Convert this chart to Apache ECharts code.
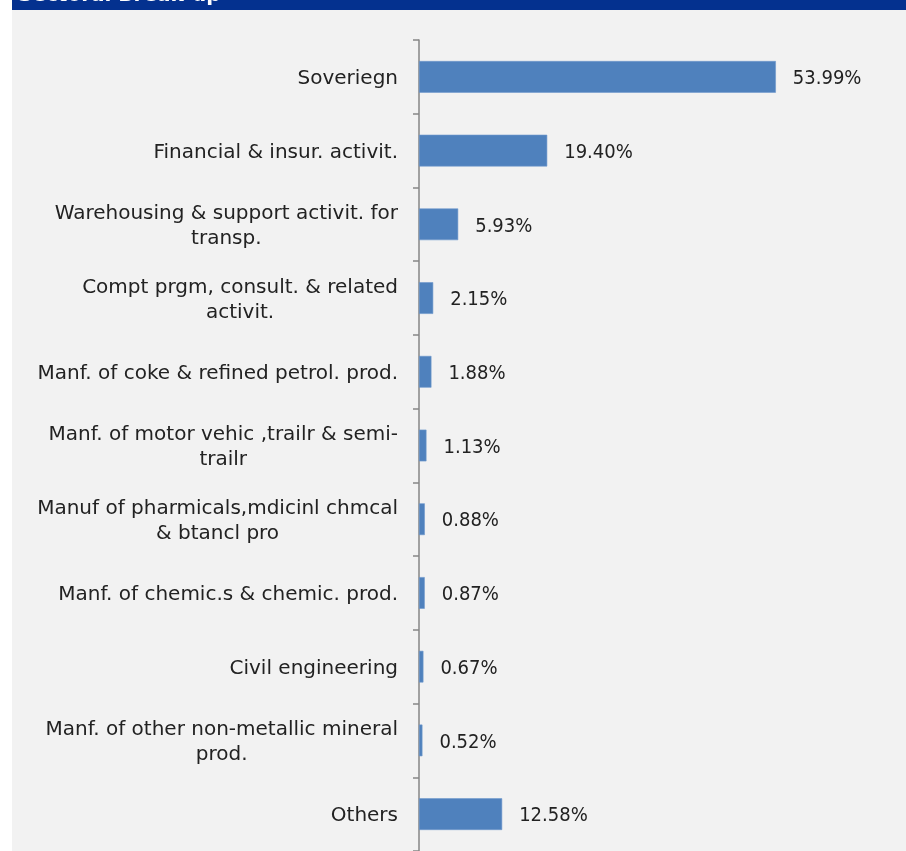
<!DOCTYPE html>
<html>
<head>
<meta charset="utf-8">
<script src="https://cdn.jsdelivr.net/npm/echarts@6/dist/echarts.min.js"></script>
<style>
  html, body { margin: 0; padding: 0; background: #ffffff; }
  #chart { width: 906px; height: 851px; }
</style>
</head>
<body>
<div id="chart"></div>
<script>
// Sector names, top to bottom (two-line names split with \n)
const sectors = [
  'Soveriegn',
  'Financial & insur. activit.',
  'Warehousing & support activit. for\ntransp.',
  'Compt prgm, consult. & related\nactivit.',
  'Manf. of coke & refined petrol. prod.',
  'Manf. of motor vehic ,trailr & semi-\ntrailr',
  'Manuf of pharmicals,mdicinl chmcal\n& btancl pro',
  'Manf. of chemic.s & chemic. prod.',
  'Civil engineering',
  'Manf. of other non-metallic mineral\nprod.',
  'Others'
];

// Share of exposure, percent
const shares = [53.99, 19.40, 5.93, 2.15, 1.88, 1.13, 0.88, 0.87, 0.67, 0.52, 12.58];

const FONT = '"DejaVu Sans", sans-serif';
const NUM_FONT = '"DejaVu Sans Condensed", "DejaVu Sans", sans-serif';
const FONT_SIZE = 20;
const TEXT_COLOR = '#222222';

// Each line of a category name is its own centred token, so wrapped names
// are centred under each other while the block stays right-aligned.
const richStyles = {
  ln: {
    align: 'center',
    fontFamily: FONT,
    fontSize: FONT_SIZE,
    color: TEXT_COLOR,
    lineHeight: 25
  }
};

const chart = echarts.init(document.getElementById('chart'), null, { renderer: 'canvas' });

chart.setOption({
  backgroundColor: '#ffffff',
  animation: false,
  graphic: [
    {
      type: 'rect',
      left: 12, top: 0,
      shape: { width: 894, height: 851 },
      style: { fill: '#f2f2f2' },
      z: -10
    },
    {
      type: 'rect',
      left: 12, top: 0,
      shape: { width: 894, height: 10 },
      style: { fill: '#04318f' },
      z: -9
    },
    {
      type: 'text',
      left: 18, top: -14,
      style: {
        text: 'Sectoral Break-up',
        fill: '#ffffff',
        font: 'bold 20px ' + FONT
      },
      z: -8
    }
  ],
  grid: {
    left: 419,
    top: 40,
    width: 396.6,
    height: 817.3
  },
  xAxis: {
    type: 'value',
    min: 0,
    max: 60,
    show: false
  },
  yAxis: {
    type: 'category',
    data: sectors,
    inverse: true,
    axisLine: { show: true, lineStyle: { color: '#868686', width: 1.5 } },
    axisTick: { show: true, length: 6, lineStyle: { color: '#868686', width: 1.5 } },
    axisLabel: {
      margin: 21,
      align: 'right',
      padding: [4, 0, 0, 0],
      formatter: function (value) {
        return value.split('\n').map(function (s) { return '{ln|' + s + '}'; }).join('\n');
      },
      rich: richStyles
    },
    splitLine: { show: false }
  },
  series: [
    {
      type: 'bar',
      data: shares,
      barWidth: '43%',
      itemStyle: { color: '#4f81bd', borderColor: '#6f98cc', borderWidth: 0.6 },
      label: {
        show: true,
        position: 'right',
        distance: 17,
        offset: [0, 2],
        fontFamily: NUM_FONT,
        fontSize: FONT_SIZE,
        color: TEXT_COLOR,
        formatter: function (p) { return p.value.toFixed(2) + '%'; }
      }
    }
  ]
});
</script>
</body>
</html>
